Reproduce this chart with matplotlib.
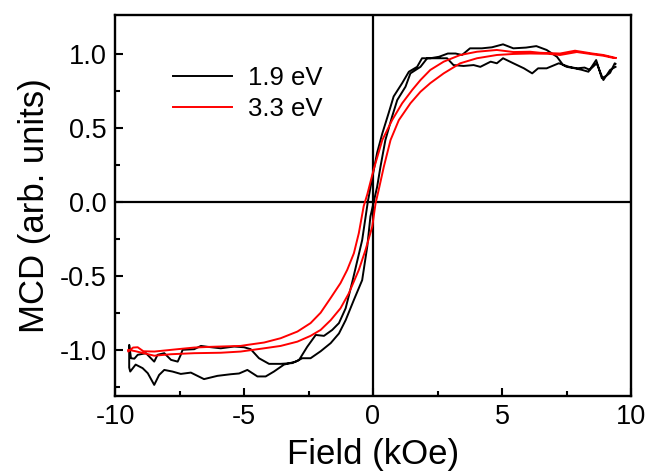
import matplotlib
matplotlib.use("Agg")
import matplotlib.pyplot as plt

plt.rcParams['font.family'] = ['Liberation Sans', 'DejaVu Sans']

# 1.9 eV, field sweep down (+ -> -)
bk_down_x = [9.40, 9.37, 9.19, 9.05, 8.87, 8.65, 8.35, 8.09, 7.83, 7.51, 7.37, 7.13, 6.73, 6.33, 5.93, 5.44, 5.04, 4.61, 4.22, 3.76, 3.45, 3.20, 2.90, 2.56, 2.22, 1.90, 1.71, 1.39, 1.13, 0.80, 0.61, 0.36, 0.16, -0.03, -0.20, -0.42, -0.61, -0.80, -1.06, -1.32, -1.58, -1.90, -2.22, -2.55, -2.87, -3.13, -3.58, -4.03, -4.42, -4.74, -5.00, -5.38, -5.90, -6.41, -6.67, -6.93, -7.38, -7.45, -7.57, -7.83, -8.09, -8.35, -8.48, -8.80, -9.12, -9.25, -9.38, -9.45]
bk_down_y = [0.93, 0.934, 0.87, 0.85, 0.833, 0.956, 0.877, 0.89, 0.90, 0.91, 0.922, 0.978, 1.024, 1.05, 1.04, 1.035, 1.062, 1.042, 1.035, 1.035, 0.99, 1.0, 1.0, 0.978, 0.968, 0.968, 0.91, 0.877, 0.80, 0.71, 0.60, 0.46, 0.33, 0.16, 0.0, -0.26, -0.40, -0.54, -0.72, -0.82, -0.866, -0.906, -0.90, -0.98, -1.07, -1.09, -1.095, -1.095, -1.057, -0.996, -0.983, -0.978, -0.99, -0.98, -0.974, -0.996, -1.0, -1.034, -1.08, -1.068, -1.023, -1.034, -1.08, -1.023, -1.034, -1.06, -1.057, -0.967]

# 1.9 eV, field sweep up (- -> +)
bk_up_x = [-9.45, -9.41, -9.20, -8.93, -8.73, -8.48, -8.29, -8.09, -7.77, -7.45, -7.06, -6.55, -6.03, -5.51, -5.19, -4.87, -4.48, -4.16, -3.84, -3.45, -3.00, -2.74, -2.42, -2.03, -1.64, -1.32, -1.06, -0.74, -0.42, -0.22, -0.10, 0.03, 0.16, 0.29, 0.48, 0.74, 0.94, 1.26, 1.45, 1.84, 2.10, 2.61, 2.87, 3.12, 3.51, 3.90, 4.16, 4.56, 4.80, 5.04, 5.44, 5.85, 6.17, 6.40, 6.73, 7.00, 7.20, 7.60, 7.90, 8.20, 8.40, 8.67, 8.93, 9.19, 9.40]
bk_up_y = [-1.12, -1.147, -1.10, -1.124, -1.158, -1.237, -1.17, -1.136, -1.147, -1.163, -1.154, -1.198, -1.176, -1.165, -1.16, -1.136, -1.18, -1.18, -1.147, -1.10, -1.08, -1.057, -1.057, -1.01, -0.955, -0.89, -0.80, -0.663, -0.53, -0.30, -0.10, 0.0, 0.10, 0.236, 0.416, 0.574, 0.686, 0.776, 0.866, 0.91, 0.968, 0.968, 0.968, 0.922, 0.916, 0.922, 0.91, 0.945, 0.934, 0.968, 0.934, 0.90, 0.866, 0.90, 0.90, 0.92, 0.934, 0.91, 0.90, 0.905, 0.89, 0.934, 0.821, 0.889, 0.91]

# 3.3 eV, field sweep down (+ -> -)
rd_down_x = [9.40, 9.32, 8.93, 8.50, 7.83, 7.25, 6.48, 6.09, 5.44, 4.80, 4.03, 3.38, 2.74, 2.22, 1.84, 1.52, 1.13, 0.74, 0.36, 0.03, -0.22, -0.36, -0.55, -0.74, -1.00, -1.26, -1.64, -2.03, -2.42, -2.93, -3.58, -4.22, -4.87, -5.13, -5.90, -6.28, -6.93, -7.57, -8.48, -8.90, -9.12, -9.30, -9.49]
rd_down_y = [0.97, 0.974, 0.99, 1.0, 1.019, 1.0, 1.005, 1.012, 1.01, 1.024, 1.012, 0.99, 0.945, 0.889, 0.821, 0.754, 0.664, 0.55, 0.416, 0.22, 0.05, -0.03, -0.213, -0.348, -0.461, -0.55, -0.65, -0.75, -0.82, -0.877, -0.922, -0.951, -0.967, -0.974, -0.978, -0.98, -0.985, -0.996, -1.012, -1.01, -0.983, -0.985, -1.012]

# 3.3 eV, field sweep up (- -> +)
rd_up_x = [-9.49, -9.20, -8.48, -7.83, -6.93, -5.90, -5.13, -4.22, -3.58, -2.93, -2.42, -2.03, -1.64, -1.26, -0.94, -0.55, -0.29, -0.03, 0.10, 0.22, 0.42, 0.68, 1.00, 1.45, 1.84, 2.22, 2.74, 3.38, 4.03, 4.80, 5.44, 6.09, 6.80, 7.25, 7.90, 8.50, 8.93, 9.32, 9.40]
rd_up_y = [-1.0, -1.01, -1.04, -1.03, -1.023, -1.02, -1.012, -0.99, -0.974, -0.945, -0.906, -0.866, -0.80, -0.72, -0.62, -0.461, -0.326, -0.169, -0.011, 0.079, 0.236, 0.416, 0.55, 0.664, 0.742, 0.80, 0.866, 0.934, 0.968, 0.99, 0.997, 1.0, 0.998, 0.99, 1.01, 0.995, 0.985, 0.97, 0.97]

labels = ["1.9 eV", "3.3 eV"]
x_ticks = [-10, -5, 0, 5, 10]
y_ticks = [-1.0, -0.5, 0.0, 0.5, 1.0]

fig = plt.figure(figsize=(6.47, 4.72), dpi=100)
ax = fig.add_axes([115/647, 1-395.7/472, (631-115)/647, (395.7-15)/472])

ax.axhline(0, color='black', lw=1.6, zorder=1)
ax.axvline(0, color='black', lw=1.6, zorder=1)

ax.plot(bk_down_x + bk_up_x, bk_down_y + bk_up_y, color='black', lw=1.4, label=labels[0], zorder=3)
ax.plot(rd_down_x + rd_up_x, rd_down_y + rd_up_y, color='#ff0000', lw=1.4, label=labels[1], zorder=4)

ax.set_xlim(-10, 10)
ax.set_ylim(-1.31, 1.26)
ax.set_xticks(x_ticks)
ax.set_xticklabels([f"{v:g}" for v in x_ticks])
ax.set_yticks(y_ticks)
ax.set_yticklabels([f"{v:.1f}" for v in y_ticks])
ax.set_xticks([-7.5, -2.5, 2.5, 7.5], minor=True)
ax.set_yticks([-1.25, -0.75, -0.25, 0.25, 0.75], minor=True)
ax.tick_params(which='major', direction='in', length=6, width=1.5, labelsize=19.5, pad=6)
ax.tick_params(which='minor', direction='in', length=3.5, width=1.5)
for s in ax.spines.values():
    s.set_linewidth(1.7)

ax.set_xlabel("Field (kOe)", fontsize=25, labelpad=6)
ax.set_ylabel("MCD (arb. units)", fontsize=25, labelpad=6)

ax.legend(loc='upper left', bbox_to_anchor=(0.113, 0.865), frameon=False,
          fontsize=18.5, handlelength=2.3, handletextpad=0.6, labelspacing=0.25,
          borderpad=0, borderaxespad=0)

fig.savefig("out.png", dpi=100)
